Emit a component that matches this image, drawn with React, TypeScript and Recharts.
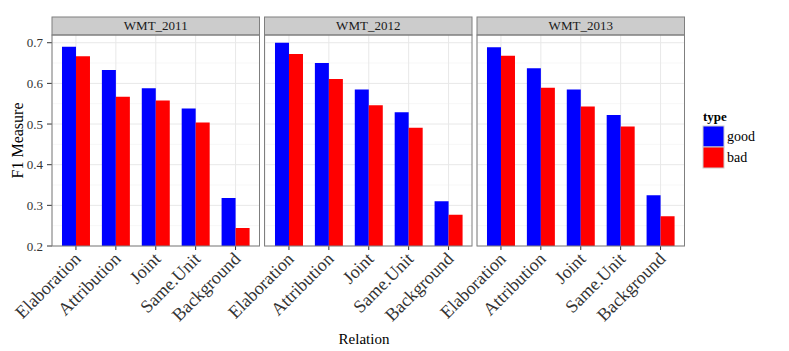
import { Bar, BarChart, CartesianGrid, XAxis, YAxis } from "recharts";

const categories = ["Elaboration", "Attribution", "Joint", "Same.Unit", "Background"];
const years = ["WMT_2011", "WMT_2012", "WMT_2013"];

const good2011 = [0.69, 0.633, 0.588, 0.538, 0.318];
const bad2011 = [0.667, 0.567, 0.558, 0.504, 0.244];
const good2012 = [0.7, 0.65, 0.585, 0.529, 0.31];
const bad2012 = [0.672, 0.611, 0.546, 0.491, 0.277];
const good2013 = [0.689, 0.637, 0.585, 0.522, 0.325];
const bad2013 = [0.668, 0.589, 0.543, 0.494, 0.273];

const majorTicks = [0.2, 0.3, 0.4, 0.5, 0.6, 0.7];
const minorTicks = [0.25, 0.35, 0.45, 0.55, 0.65];

const FONT = '"Liberation Serif", serif';
const GOOD = "#0000ff";
const BAD = "#ff0000";

const goodByYear = [good2011, good2012, good2013];
const badByYear = [bad2011, bad2012, bad2013];

// panel geometry (plot area left edge, width)
const panelLeft = [52, 264.5, 477];
const panelW = 207.5;
const plotTop = 35;
const plotBottom = 246;
const stripTop = 17;
const spill = 80; // room on the left for rotated labels

function XTick(props: any) {
  const { x, y, payload } = props;
  const tx = x + 6;
  const ty = y + 6;
  return (
    <text
      x={tx}
      y={ty}
      transform={`rotate(-45, ${tx}, ${ty})`}
      textAnchor="end"
      fontSize={18}
      fontFamily={FONT}
      fill="#333"
    >
      {payload.value}
    </text>
  );
}

function Panel({ idx }: { idx: number }) {
  const data = categories.map((c, i) => ({
    relation: c,
    good: goodByYear[idx][i],
    bad: badByYear[idx][i],
  }));
  const first = idx === 0;
  const left = first ? 0 : panelLeft[idx] - spill;
  const width = first ? panelLeft[0] + panelW : panelW + spill;
  return (
    <div style={{ position: "absolute", left, top: 0 }}>
      <BarChart
        width={width}
        height={351}
        data={data}
        margin={{ top: plotTop, right: 0, bottom: 0, left: first ? 0 : spill }}
        barCategoryGap="15%"
        barGap={0}
      >
        <CartesianGrid vertical={false} horizontalValues={minorTicks} stroke="#f7f7f7" />
        <CartesianGrid horizontalValues={majorTicks} stroke="#e8e8e8" />
        <XAxis
          dataKey="relation"
          height={351 - plotBottom}
          padding={{ left: 4, right: 4 }}
          axisLine={false}
          tickSize={4}
          tickMargin={4}
          tickLine={{ stroke: "#333" }}
          tick={<XTick />}
          interval={0}
        />
        <YAxis
          hide={!first}
          width={panelLeft[0]}
          domain={[0.2, 0.719]}
          allowDataOverflow
          ticks={majorTicks}
          tickFormatter={(v: number) => v.toFixed(1)}
          axisLine={false}
          tickSize={5}
          tickMargin={4}
          tickLine={{ stroke: "#333" }}
          tick={{ fontSize: 13, fontFamily: FONT, fill: "#333" }}
        />
        <Bar dataKey="good" fill={GOOD} isAnimationActive={false} />
        <Bar dataKey="bad" fill={BAD} isAnimationActive={false} />
      </BarChart>
    </div>
  );
}

export default function App() {
  return (
    <div
      style={{
        position: "absolute",
        left: 0,
        top: 0,
        width: 789,
        height: 351,
        background: "#fff",
        fontFamily: FONT,
      }}
    >
      {years.map((_, i) => (
        <Panel key={i} idx={i} />
      ))}
      <svg
        width={789}
        height={351}
        style={{ position: "absolute", left: 0, top: 0, pointerEvents: "none" }}
      >
        {years.map((y, i) => (
          <g key={y}>
            <rect
              x={panelLeft[i]}
              y={stripTop}
              width={panelW}
              height={plotTop - stripTop}
              fill="#cccccc"
              stroke="#7f7f7f"
            />
            <text
              x={panelLeft[i] + panelW / 2}
              y={30}
              textAnchor="middle"
              fontSize={13}
              fontFamily={FONT}
              fill="#1a1a1a"
            >
              {y}
            </text>
            <rect
              x={panelLeft[i]}
              y={plotTop}
              width={panelW}
              height={plotBottom - plotTop}
              fill="none"
              stroke="#7f7f7f"
            />
          </g>
        ))}
        <text
          x={23}
          y={140.5}
          transform="rotate(-90, 23, 140.5)"
          textAnchor="middle"
          fontSize={16}
          fontFamily={FONT}
          fill="#000"
        >
          F1 Measure
        </text>
        <text x={364} y={344} textAnchor="middle" fontSize={15} fontFamily={FONT} fill="#000">
          Relation
        </text>
        <text x={703} y={121} fontSize={13} fontWeight="bold" fontFamily={FONT} fill="#000">
          type
        </text>
        <rect x={703} y={126} width={21} height={21} fill={GOOD} stroke="#cccccc" />
        <rect x={703} y={147} width={21} height={21} fill={BAD} stroke="#cccccc" />
        <text x={727} y={141} fontSize={14} fontFamily={FONT} fill="#000">
          good
        </text>
        <text x={727} y={162} fontSize={14} fontFamily={FONT} fill="#000">
          bad
        </text>
      </svg>
    </div>
  );
}
